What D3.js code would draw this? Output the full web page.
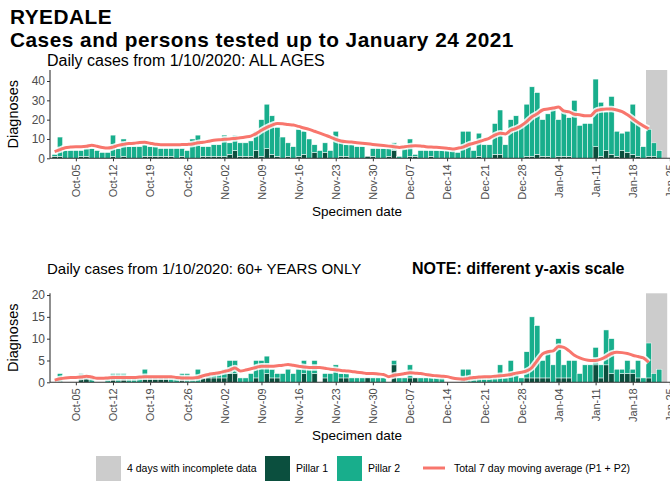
<!DOCTYPE html>
<html>
<head>
<meta charset="utf-8">
<script src="https://cdn.jsdelivr.net/npm/d3@7"></script>
<style>
  html, body { margin: 0; padding: 0; background: #fff; }
  svg { display: block; font-family: "Liberation Sans", Arial, sans-serif; }
</style>
</head>
<body>
<svg id="chart" width="670" height="485"></svg>
<script>
// Daily counts from 1 Oct 2020 (one entry per specimen date)
const firstDay = new Date(Date.UTC(2020, 9, 1));
const dayCount = 116;
const incompleteDays = 4;

// All ages
const allPillar1 = [1,1,0,0,0,1,1,0,0,0,0,1,0,1,0,0,0,1,1,1,1,1,1,0,1,0,0,0,1,1,
  1,1,1,2,4,1,1,1,4,1,5,2,1,0,1,0,1,2,0,3,0,3,0,0,1,1,0,0,0,1,
  1,0,0,1,4,0,0,1,1,0,0,1,0,0,0,0,0,0,0,0,1,0,0,2,2,0,0,0,0,1,
  1,2,1,1,0,1,1,1,0,0,0,0,6,1,4,2,1,4,3,2,1,0,1,1,0,0];
const allPillar2 = [1,10,4,4,4,3,4,5,4,3,3,11,5,9,6,6,6,6,5,5,4,4,4,5,4,4,10,12,5,5,
  6,6,11,6,8,7,7,8,10,19,23,20,15,11,7,6,14,12,10,4,4,5,4,14,8,6,7,6,6,0,
  4,5,5,4,4,1,5,9,1,4,4,3,4,4,4,4,3,14,14,4,12,7,7,16,23,7,20,22,17,27,
  36,32,19,22,26,19,24,20,30,17,18,18,35,28,20,30,13,9,11,26,17,6,14,7,4,0];
const allAverage = [3.5,4.5,5.5,5.8,6,6,6.2,6.8,6.2,5.6,5.3,5.8,6.7,7.2,7.6,7.8,8.2,8.3,7.8,7.3,
  7,7,7,7,7.1,7.2,7.4,8,8.3,8.8,9.3,9.6,9.8,10,10.3,10.6,11,11.5,12.8,14.5,
  16,17.2,18,17.9,17.5,17.2,16.5,15.7,15,14,13,12,11,9.8,9,8.6,8.4,8.1,7.8,7.5,
  7.2,6.9,6.6,6.3,6,5.6,6,6.3,6.5,6.4,6,5.8,5.7,5.5,5.2,4.8,5.2,5.8,7,7.8,
  8.6,9.5,10.5,12,13,12.6,14.5,15.5,17,19,21.5,23,25,25.5,26,26.5,24.5,24,22.8,22.5,
  22,22,24.5,25.3,25.5,25.5,25,24.2,22.5,20.5,18.5,16.8,15.3];

// 60+ years only
const olderPillar1 = [0,0,0,0,0,1,1,0,0,0,0,1,0,1,0,0,0,1,1,1,1,1,0,0,1,0,0,0,1,1,
  1,1,1,2,2,0,0,0,1,0,2,1,1,0,0,0,0,2,0,2,0,1,0,0,1,1,0,0,0,1,
  0,0,0,0,4,0,0,1,1,0,0,0,0,0,0,0,0,0,0,0,0,0,0,0,0,0,0,0,0,1,
  1,1,1,1,0,1,1,1,0,0,0,0,4,1,4,2,0,2,2,2,1,0,1,0,0,0];
const olderPillar2 = [0,2,0,0,0,1,0,1,0,0,1,1,2,1,1,1,1,2,0,0,0,0,1,1,1,2,1,3,0,1,
  1,1,2,3,3,1,1,2,4,5,4,2,1,2,3,2,3,3,3,3,0,1,2,4,1,1,1,1,1,0,
  1,1,1,0,1,1,1,3,0,1,1,1,1,1,0,0,0,3,3,1,1,1,1,1,4,1,5,2,1,6,
  14,12,4,6,4,9,3,4,5,2,4,4,4,3,8,8,3,1,3,1,4,1,8,2,3,0];
const olderAverage = [0.5,0.8,1,1.1,1.1,1.2,1.4,1.2,0.9,0.9,1,1.1,1.1,1.1,1.1,1.1,1.2,1.3,1.3,1.3,
  1.3,1.3,1.3,1.1,1,1,1,1.1,1.5,1.8,2,2.2,2.5,2.8,3.3,2.6,2.8,3.1,3.4,3.7,
  3.7,3.7,3.8,3.9,4.1,3.9,3.7,3.5,3.4,3.4,3.4,3.2,3,2.9,2.7,2.6,2.5,2.3,2.2,2,
  2,1.9,1.8,1.3,1.6,1.8,2,2.2,2.1,2,1.8,1.6,1.5,1.4,1.3,1,0.8,0.7,0.9,1.1,
  1.2,1.3,1.3,1.4,1.5,1.6,1.8,2.1,2.3,2.6,3.4,5,6.5,7,7.2,8.2,8,7.2,6.2,5.6,
  5.2,5,5,5.3,5.9,6.6,6.9,6.8,6.6,6.2,5.9,5.6,4.6];

const yTicksAll = [0, 10, 20, 30, 40];
const yTicksOlder = [0, 5, 10, 15, 20];

const colours = {
  pillar1: "#0b4f3e",
  pillar2: "#18ae8c",
  average: "#f8766d",
  incomplete: "#cccccc",
  axis: "#333333",
  tickText: "#4d4d4d"
};

const days = d3.utcDay.range(firstDay, d3.utcDay.offset(firstDay, dayCount));
const svg = d3.select("#chart");

// Day centres sit on the date; one day is about 5.3px wide
const x = d3.scaleUtc()
  .domain([d3.utcHour.offset(firstDay, -20.8), d3.utcHour.offset(firstDay, 24 * 118)])
  .range([50, 50 + 5.304 * (118 + 20.8 / 24)]);
const dayWidth = x(d3.utcDay.offset(firstDay, 1)) - x(firstDay);
const weekTicks = d3.utcMonday.range(new Date(Date.UTC(2020, 9, 5)), new Date(Date.UTC(2021, 0, 26)));

// Titles
svg.append("text").attr("x", 10).attr("y", 23.5)
  .attr("font-size", 20.8).attr("font-weight", "bold").attr("letter-spacing", 0.5)
  .attr("fill", "#000").text("RYEDALE");
svg.append("text").attr("x", 10).attr("y", 47)
  .attr("font-size", 20.8).attr("font-weight", "bold").attr("letter-spacing", 0.5)
  .attr("fill", "#000").text("Cases and persons tested up to January 24 2021");

function panel(opts) {
  const { top, bottom, yMax, yTicks, p1, p2, avg, subtitle, subtitleY, subtitleSize, note, noteX } = opts;
  const y = d3.scaleLinear().domain([0, yMax]).range([bottom, top]);
  const g = svg.append("g");

  g.append("text").attr("x", 47).attr("y", subtitleY).attr("font-size", subtitleSize).attr("fill", "#000")
    .text(subtitle);
  if (note) {
    g.append("text").attr("x", noteX).attr("y", subtitleY).attr("font-size", 16)
      .attr("font-weight", "bold").attr("fill", "#000").text(note);
  }

  // Shaded incomplete period
  const shadeStart = days[dayCount - incompleteDays];
  g.append("rect")
    .attr("x", x(shadeStart) - dayWidth / 2)
    .attr("width", dayWidth * incompleteDays)
    .attr("y", top).attr("height", bottom - top)
    .attr("fill", colours.incomplete);

  // Stacked bars: pillar 1 at the base, pillar 2 on top
  const rows = days.map((d, i) => ({ date: d, p1: p1[i], p2: p2[i] }));
  const stacked = d3.stack().keys(["p1", "p2"])(rows);
  g.append("g").selectAll("g").data(stacked).join("g")
    .attr("fill", s => s.key === "p1" ? colours.pillar1 : colours.pillar2)
    .selectAll("rect").data(s => s.filter(v => v[1] > v[0])).join("rect")
    .attr("x", v => x(v.data.date) - dayWidth / 2)
    .attr("width", dayWidth)
    .attr("y", v => y(v[1]))
    .attr("height", v => y(v[0]) - y(v[1]))
    .attr("stroke", "#fff").attr("stroke-width", 0.5);

  // 7 day moving average with a light halo
  const line = d3.line().x((v, i) => x(days[i])).y(v => y(v)).curve(d3.curveMonotoneX);
  g.append("path").datum(avg).attr("d", line).attr("fill", "none")
    .attr("stroke", "#fff").attr("stroke-opacity", 0.85).attr("stroke-width", 6.5)
    .attr("stroke-linejoin", "round");
  g.append("path").datum(avg).attr("d", line).attr("fill", "none")
    .attr("stroke", colours.average).attr("stroke-width", 3)
    .attr("stroke-linejoin", "round");

  // Axes
  const yAxis = g.append("g").attr("transform", "translate(50,0)")
    .call(d3.axisLeft(y).tickValues(yTicks).tickSize(3).tickPadding(2));
  yAxis.select(".domain").attr("d", `M0,${top}V${bottom}`).attr("stroke", colours.axis).attr("stroke-width", 1.1);
  yAxis.selectAll(".tick line").attr("stroke", colours.axis);
  yAxis.selectAll(".tick text").attr("font-size", 12).attr("fill", colours.tickText)
    .attr("font-family", "Liberation Sans, Arial, sans-serif");

  const xAxis = g.append("g").attr("transform", `translate(0,${bottom})`)
    .call(d3.axisBottom(x).tickValues(weekTicks).tickFormat(d3.utcFormat("%b-%d")).tickSize(3).tickPadding(3));
  xAxis.select(".domain").attr("d", `M50,0H${x(weekTicks[weekTicks.length - 1]) + 20}`)
    .attr("stroke", colours.axis).attr("stroke-width", 1.1);
  xAxis.selectAll(".tick line").attr("stroke", colours.axis);
  xAxis.selectAll(".tick text")
    .attr("font-size", 11).attr("fill", colours.tickText)
    .attr("font-family", "Liberation Sans, Arial, sans-serif")
    .attr("text-anchor", "end")
    .attr("transform", "rotate(-90)")
    .attr("x", -6).attr("y", 0).attr("dy", "0.35em");

  g.append("text")
    .attr("transform", `translate(18,${(top + bottom) / 2}) rotate(-90)`)
    .attr("text-anchor", "middle").attr("font-size", 14.5).attr("fill", "#000")
    .text("Diagnoses");

  g.append("text").attr("x", 357).attr("y", bottom + 58).attr("text-anchor", "middle")
    .attr("font-size", 13.5).attr("fill", "#000").text("Specimen date");
}

panel({
  top: 70, bottom: 158.3, yMax: 45.7, yTicks: yTicksAll,
  p1: allPillar1, p2: allPillar2, avg: allAverage,
  subtitle: "Daily cases from 1/10/2020: ALL AGES", subtitleY: 66, subtitleSize: 16
});

panel({
  top: 293.3, bottom: 382.3, yMax: 20.4, yTicks: yTicksOlder,
  p1: olderPillar1, p2: olderPillar2, avg: olderAverage,
  subtitle: "Daily cases from 1/10/2020: 60+ YEARS ONLY", subtitleY: 274, subtitleSize: 15,
  note: "NOTE: different y-axis scale", noteX: 412
});

// Legend
const legend = svg.append("g").attr("font-size", 10.5).attr("fill", "#000");
const legendItems = [
  { kind: "box", fill: colours.incomplete, x: 96, label: "4 days with incomplete data" },
  { kind: "box", fill: colours.pillar1, x: 265, label: "Pillar 1" },
  { kind: "box", fill: colours.pillar2, x: 337, label: "Pillar 2" },
  { kind: "line", fill: colours.average, x: 423, label: "Total 7 day moving average (P1 + P2)" }
];
legendItems.forEach(item => {
  if (item.kind === "box") {
    legend.append("rect").attr("x", item.x).attr("y", 456).attr("width", 25).attr("height", 25)
      .attr("fill", item.fill);
  } else {
    legend.append("line").attr("x1", item.x).attr("x2", item.x + 22).attr("y1", 468).attr("y2", 468)
      .attr("stroke", item.fill).attr("stroke-width", 3);
  }
  legend.append("text").attr("x", item.x + 31).attr("y", 472).text(item.label);
});
</script>
</body>
</html>
